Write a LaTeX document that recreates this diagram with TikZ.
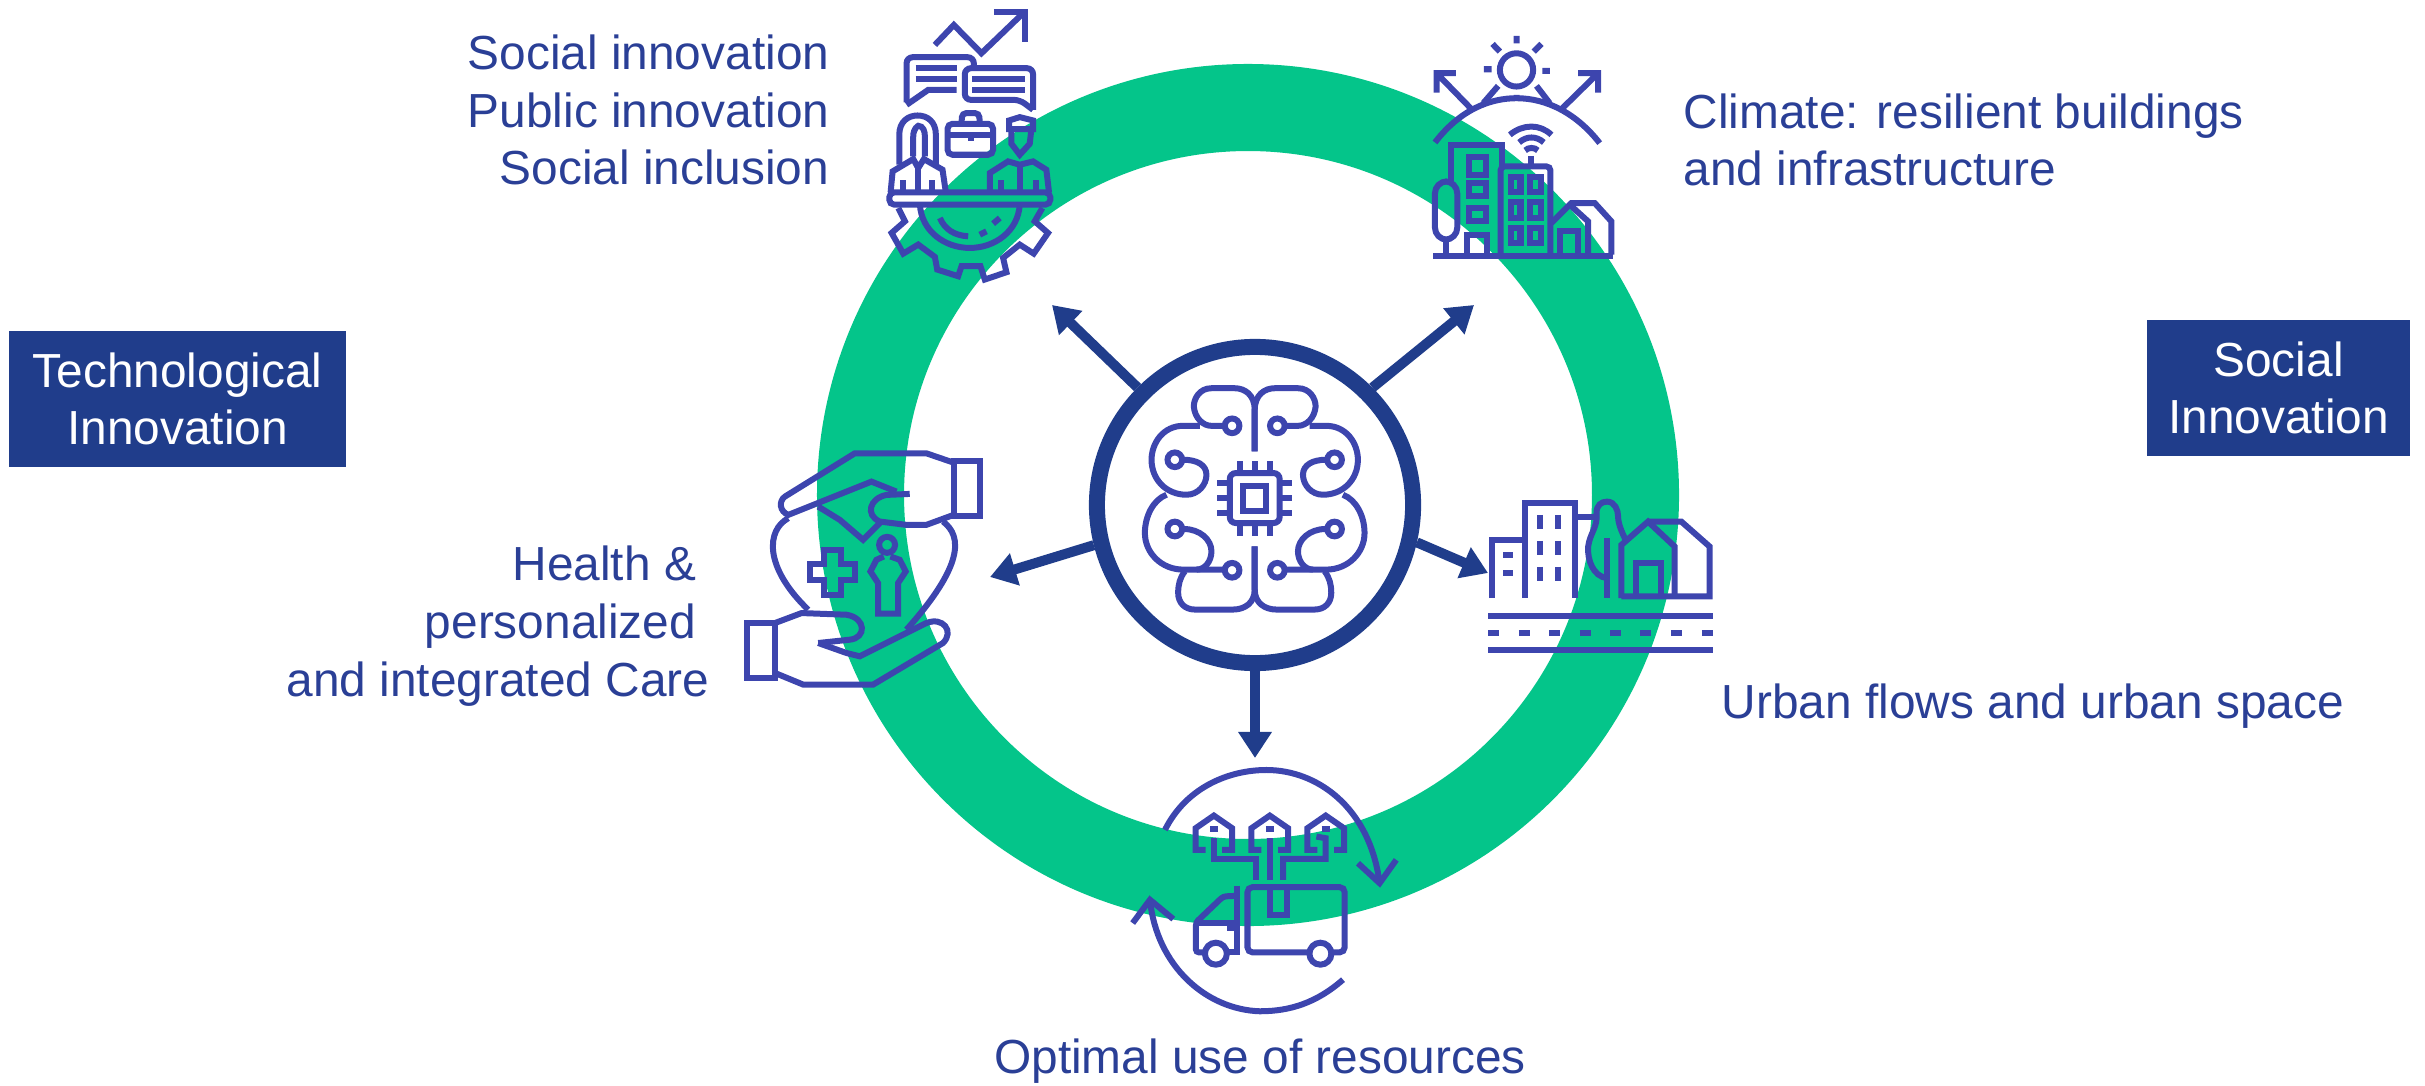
\documentclass[tikz,border=0pt]{standalone}
\usepackage{fontspec}
\setmainfont{Liberation Sans}
\usetikzlibrary{arrows.meta}
\definecolor{ringgreen}{HTML}{04C58A}
\definecolor{boxblue}{HTML}{203D8B}
\definecolor{textblue}{HTML}{2A3F96}
\definecolor{iconblue}{HTML}{3D45AE}
\tikzset{
  caption/.style={text=textblue,font=\fontsize{13.6}{16.4}\selectfont,inner sep=0pt},
  banner/.style={fill=boxblue,text=white,font=\fontsize{13.6}{16.4}\selectfont,align=center,inner sep=0pt},
  hubring/.style={circle,draw=boxblue,fill=white,line width=0.16cm,minimum size=3.16cm,inner sep=0pt},
  spoke/.style={draw=boxblue,line width=0.1cm,-{Triangle[length=0.26cm,width=0.32cm]}},
  glyph/.style={draw=iconblue,line width=0.06cm},
  zoomed/.style={x=0.00333333cm,y=-0.00333333cm},
}
\begin{document}
\begin{tikzpicture}[x=0.01cm,y=-0.01cm]
  \useasboundingbox (0,0) rectangle (2425,1085);
  \draw[ringgreen,line width=0.87cm] (1248,495) circle[radius=387.5];

  \node[banner,minimum width=3.37cm,minimum height=1.36cm] (techbox) at (177.5,399) {Technological\\Innovation};
  \node[banner,minimum width=2.63cm,minimum height=1.36cm] (socialbox) at (2278.5,388) {Social\\Innovation};

  \node[caption,align=right,anchor=east] (sociallabel) at (830,110) {Social innovation\\Public innovation\\Social inclusion};
  \node[caption,align=left,anchor=west] (climatelabel) at (1683,140) {Climate: resilient buildings\\and infrastructure};
  \node[caption,align=right,anchor=east] (healthlabel) at (710,626) {Health \&\hphantom{\ }\\personalized\hphantom{\ }\\and integrated Care};
  \node[caption,anchor=west] (urbanlabel) at (1721,706) {Urban flows and urban space};
  \node[caption] (resourcelabel) at (1260,1061) {Optimal use of resources};

  \node[hubring] (hub) at (1255,505) {};
  \coordinate (socialtip) at (1052,305);
  \coordinate (climatetip) at (1474,305);
  \coordinate (healthtip) at (990,577);
  \coordinate (urbantip) at (1488,573);
  \coordinate (resourcetip) at (1255,758);
  \draw[spoke] (hub.135) -- (socialtip);
  \draw[spoke] (hub.45) -- (climatetip);
  \draw[spoke] (hub.194) -- (healthtip);
  \draw[spoke] (hub.-13) -- (urbantip);
  \draw[spoke] (hub.-90) -- (resourcetip);

  % brain
  \begin{scope}[shift={(1070,320)},zoomed]
    \foreach \flip in {1,-1} {
      \begin{scope}[shift={({555*(1-\flip)},0)},xscale=\flip]
        \draw[glyph] (555,395) -- (555,270) .. controls (555,225) and (525,205) .. (495,205) -- (425,205)
          .. controls (390,205) and (372,235) .. (372,260) .. controls (375,295) and (400,318) .. (425,318) -- (462,318);
        \draw[glyph] (390,318) -- (340,318) .. controls (280,318) and (245,370) .. (245,420)
          .. controls (245,480) and (290,525) .. (350,525) .. controls (385,525) and (410,495) .. (410,465)
          .. controls (410,435) and (380,420) .. (342,420);
        \draw[glyph] (290,525) .. controls (250,540) and (225,590) .. (225,640) .. controls (225,700) and (275,750) .. (340,750) -- (462,750);
        \draw[glyph] (342,628) .. controls (390,628) and (425,660) .. (425,695) .. controls (425,725) and (405,750) .. (380,750);
        \draw[glyph] (345,755) .. controls (330,775) and (325,795) .. (325,820) .. controls (325,850) and (345,870) .. (375,870)
          -- (490,870) .. controls (525,870) and (555,850) .. (555,810) -- (555,680);
        \foreach \cx/\cy in {487/318,315/420,315/628,487/752}
          \draw[glyph] (\cx,\cy) circle[radius=22];
      \end{scope}
    }
    \draw[glyph,rounded corners=0.06cm] (480,460) rectangle (630,610);
    \draw[glyph] (519,500) rectangle (589,575);
    \foreach \p in {510,555,600} {
      \draw[glyph] (\p,425) -- (\p,460);
      \draw[glyph] (\p,610) -- (\p,650);
    }
    \foreach \p in {490,535,580} {
      \draw[glyph] (442,\p) -- (480,\p);
      \draw[glyph] (630,\p) -- (668,\p);
    }
  \end{scope}

  % social innovation icon
  \begin{scope}[shift={(850,0)},zoomed]
    \draw[glyph] (255,135) -- (312,75) -- (395,160) -- (525,35);
    \draw[glyph] (432,35) -- (525,35) -- (525,125);
    \draw[glyph,rounded corners=0.06cm] (372,200) -- (372,172) -- (170,172) -- (170,308);
    \draw[glyph] (170,315) -- (235,270) -- (320,270);
    \draw[glyph] (197,205) -- (320,205) (197,238) -- (320,238);
    \draw[glyph,rounded corners=0.06cm] (550,330) -- (550,205) -- (345,205) -- (345,300) -- (510,300) -- (550,330);
    \draw[glyph] (368,238) -- (525,238) (368,270) -- (525,270);
    \draw[glyph,rounded corners=0.05cm] (293,372) rectangle (430,465);
    \draw[glyph,rounded corners=0.04cm] (335,372) -- (337,340) -- (388,340) -- (390,372);
    \draw[glyph] (293,405) -- (430,405) (365,405) -- (365,425);
    \draw[glyph] (148,495) -- (148,405) .. controls (148,365) and (175,347) .. (203,347) .. controls (232,347) and (258,365) .. (258,405) -- (258,495);
    \draw[glyph] (190,470) -- (190,410) .. controls (190,385) and (205,378) .. (205,378) .. controls (220,378) and (225,395) .. (225,410) -- (225,470);
    \draw[glyph] (122,578) -- (128,515) -- (190,478) -- (205,505) -- (222,478) -- (278,510) -- (288,578);
    \draw[glyph] (205,505) -- (205,578) (160,578) -- (160,540) (245,578) -- (245,540);
    \draw[glyph] (478,388) -- (478,362) -- (510,352) -- (550,362) -- (550,388) -- cycle;
    \draw[glyph] (485,388) -- (485,432) -- (510,465) -- (540,432) -- (545,388);
    \draw[glyph] (420,578) -- (420,520) -- (475,485) -- (510,495) -- (550,485) -- (590,510) -- (598,578);
    \draw[glyph] (510,495) -- (510,578) (455,578) -- (455,540) (560,578) -- (560,540);
    \draw[glyph,rounded corners=0.05cm] (118,578) rectangle (602,615);
    \draw[glyph] (210,615) .. controls (215,695) and (285,745) .. (360,745) .. controls (435,745) and (505,695) .. (510,615);
    \draw[glyph] (270,655) .. controls (285,690) and (315,708) .. (355,710);
    \draw[glyph] (390,705) -- (410,695) (430,672) -- (450,655);
    \draw[glyph] (145,625) -- (165,665) -- (125,700) -- (160,762) -- (205,735) -- (255,772) -- (262,810) -- (325,830) -- (335,800) -- (392,800)
      -- (405,840) -- (470,818) -- (460,775) -- (510,735) -- (552,762) -- (595,700) -- (555,665) -- (578,625);
  \end{scope}

  % climate icon
  \begin{scope}[shift={(1400,20)},zoomed]
    \draw[glyph] (350,150) circle[radius=50];
    \draw[glyph] (350,48) -- (350,70) (278,72) -- (300,95) (425,72) -- (402,95) (252,148) -- (275,148) (428,153) -- (450,153);
    \draw[glyph] (105,368) .. controls (180,270) and (270,235) .. (350,235) .. controls (440,235) and (530,280) .. (600,370);
    \draw[glyph] (250,250) -- (295,198) (450,250) -- (410,198) (350,225) -- (350,235);
    \draw[glyph] (215,268) -- (110,160) (110,218) -- (110,160) -- (168,160);
    \draw[glyph] (488,265) -- (595,160) (535,160) -- (595,160) -- (595,218);
    \draw[glyph] (330,345) .. controls (370,312) and (420,312) .. (455,345);
    \draw[glyph] (358,368) .. controls (380,348) and (410,348) .. (432,368);
    \draw[glyph] (376,392) .. controls (385,382) and (405,382) .. (414,392);
    \draw[glyph] (395,408) -- (395,438);
    \draw[glyph] (152,490) -- (152,375) -- (305,375) -- (305,438);
    \draw[glyph] (208,412) rectangle (258,465) (208,490) rectangle (258,528) (208,565) rectangle (258,605);
    \draw[glyph] (200,705) -- (200,645) -- (262,645) -- (262,705);
    \draw[glyph,rounded corners=0.04cm] (302,705) -- (302,440) -- (452,440) -- (452,705);
    \foreach \wy in {472,548,625} {
      \draw[glyph] (332,\wy) rectangle (362,\wy+46);
      \draw[glyph] (392,\wy) rectangle (425,\wy+46);
    }
    \draw[glyph,rounded corners=0.12cm] (105,485) rectangle (172,660);
    \draw[glyph] (138,660) -- (138,705);
    \draw[glyph] (455,610) -- (510,555) -- (565,605) -- (565,705);
    \draw[glyph] (480,705) -- (480,635) -- (535,635) -- (535,705);
    \draw[glyph] (510,550) -- (585,550) -- (635,605) -- (635,705);
    \draw[glyph] (100,708) -- (640,708);
  \end{scope}

  % health icon
  \begin{scope}[shift={(730,440)},zoomed]
    \draw[glyph] (672,62) rectangle (750,228);
    \draw[glyph] (672,68) -- (590,40) -- (375,40) -- (165,170) .. controls (145,185) and (150,215) .. (175,225) -- (425,125) -- (500,155);
    \draw[glyph] (540,162) -- (470,165) .. controls (420,175) and (405,225) .. (450,245) -- (530,255) -- (590,255) -- (672,225);
    \draw[glyph] (175,235) .. controls (110,270) and (100,380) .. (235,510);
    \draw[glyph] (640,245) .. controls (700,290) and (700,380) .. (530,570);
    \draw[glyph] (265,200) -- (330,240) -- (400,300) -- (450,250);
    \draw[glyph] (283,330) -- (332,330) -- (332,373) -- (377,373) -- (377,422) -- (332,422) -- (332,467) -- (283,467) -- (283,422) -- (240,422) -- (240,373) -- (283,373) -- cycle;
    \draw[glyph] (472,315) circle[radius=24];
    \draw[glyph] (462,350) -- (440,360) -- (422,395) -- (445,430) -- (445,522) -- (505,522) -- (505,430) -- (528,395) -- (510,360) -- (482,350);
    \draw[glyph] (52,550) rectangle (135,715);
    \draw[glyph] (135,550) -- (215,520) -- (350,525) .. controls (410,535) and (410,595) .. (360,600) -- (265,610);
    \draw[glyph] (265,610) -- (350,640) -- (390,650) -- (450,620) -- (590,550) .. controls (640,530) and (675,575) .. (640,610) -- (430,735) -- (220,735) -- (135,700);
  \end{scope}

  % urban icon
  \begin{scope}[shift={(1470,480)},zoomed]
    \draw[glyph] (65,355) -- (65,180) -- (160,180);
    \draw[glyph] (100,225) -- (130,225) (100,280) -- (130,280);
    \draw[glyph] (165,355) -- (165,68) -- (315,68) -- (315,355);
    \foreach \wy in {105,183,260} {
      \draw[glyph] (210,\wy) -- (210,\wy+42);
      \draw[glyph] (265,\wy) -- (265,\wy+42);
    }
    \draw[glyph] (315,110) -- (372,110);
    \draw[glyph] (412,295) .. controls (370,290) and (352,240) .. (355,200) .. controls (360,160) and (385,140) .. (380,100)
      .. controls (380,75) and (395,65) .. (412,65) .. controls (435,65) and (445,90) .. (445,110) .. controls (445,130) and (455,155) .. (470,185);
    \draw[glyph] (412,175) -- (412,355);
    \draw[glyph] (455,355) -- (455,195) -- (535,125) -- (615,200) -- (615,355);
    \draw[glyph] (535,125) -- (635,125) -- (720,200) -- (720,350) -- (455,350);
    \draw[glyph] (500,350) -- (500,250) -- (575,250) -- (575,350);
    \draw[glyph] (55,410) -- (730,410) (55,512) -- (730,512);
    \foreach \dx in {55,147,238,330,422,512,605,697}
      \draw[glyph] (\dx,460) -- (\dx+33,460);
  \end{scope}

  % resources icon
  \begin{scope}[shift={(1130,760)},zoomed]
    \draw[glyph] (105,210) .. controls (170,80) and (300,30) .. (410,30) .. controls (560,30) and (720,140) .. (750,370);
    \draw[glyph] (685,310) -- (750,370) -- (800,300);
    \draw[glyph] (640,660) .. controls (560,730) and (480,755) .. (390,755) .. controls (230,750) and (80,620) .. (60,420);
    \draw[glyph] (8,490) -- (60,420) -- (130,478);
    \foreach \hx in {252,420,588} {
      \draw[glyph] (\hx-25,270) -- (\hx-55,270) -- (\hx-55,205) -- (\hx,167) -- (\hx+55,205) -- (\hx+55,270) -- (\hx+25,270);
      \draw[glyph] (\hx-12,207) -- (\hx+12,207);
    }
    \draw[glyph] (252,235) -- (252,297) -- (380,297) -- (380,360);
    \draw[glyph] (420,235) -- (420,360);
    \draw[glyph] (560,230) -- (588,235) -- (588,297) -- (460,297) -- (460,360);
    \draw[glyph,rounded corners=0.05cm] (605,578) -- (645,578) -- (645,382) -- (353,382) -- (353,578) -- (540,578);
    \draw[glyph] (322,378) -- (322,578) -- (295,578);
    \draw[glyph,rounded corners=0.03cm] (322,408) -- (280,410) -- (198,488) -- (198,578) -- (225,578);
    \draw[glyph] (198,490) -- (322,490) (292,505) -- (312,505);
    \draw[glyph] (258,582) circle[radius=33] (572,582) circle[radius=33];
    \draw[glyph] (420,382) -- (420,465) -- (472,465) -- (472,382);
  \end{scope}
\end{tikzpicture}
\end{document}
